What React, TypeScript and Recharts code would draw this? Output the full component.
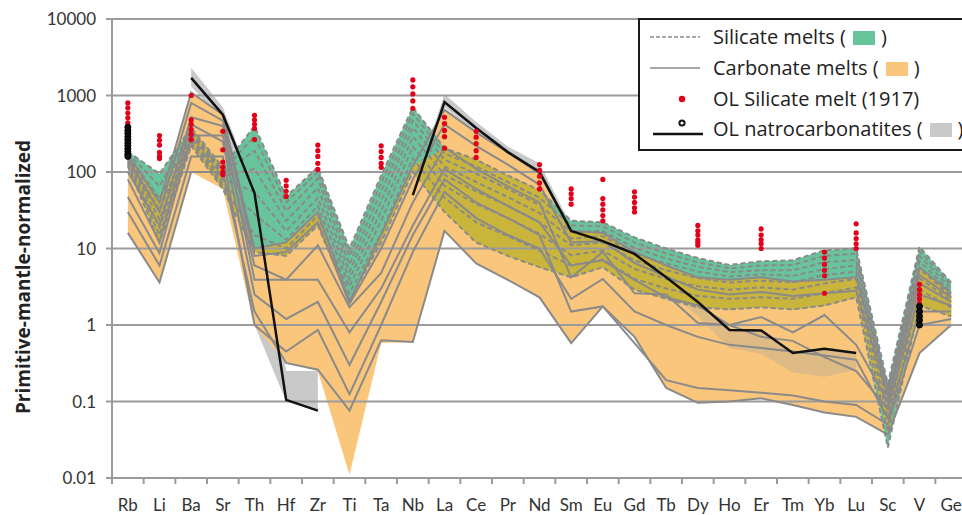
import React from 'react';
import { ComposedChart, Area, Line, XAxis, YAxis, ReferenceLine } from 'recharts';

const categories = ['Rb','Li','Ba','Sr','Th','Hf','Zr','Ti','Ta','Nb','La','Ce','Pr','Nd','Sm','Eu','Gd','Tb','Dy','Ho','Er','Tm','Yb','Lu','Sc','V','Ge'];
const yTicks = [0.01, 0.1, 1, 10, 100, 1000, 10000];

// Envelopes
const silicateHigh = [185, 95, 380, 115, 400, 48, 115, 10, 90, 700, 205, 145, 90, 58, 23, 22, 14, 10, 7.5, 6.1, 6.8, 7, 9.5, 10, 0.17, 10.5, 3.6];
const silicateLow = [120, 12, 220, 60, 9, 8, 20, 2.1, 12, 100, 30, 12, 8, 5.7, 4.2, 5.7, 2.9, 2.2, 1.7, 1.6, 1.7, 1.6, 1.8, 2.3, 0.025, 1.8, 1.3];
const carbonateHigh = [170, 40, 1100, 560, 10, 12, 30, 2, 15, 120, 650, 330, 180, 95, 17, 16, 9, 6, 4.2, 3.9, 4.2, 3.7, 3.9, 4.2, 0.15, 5.7, 2.6];
const carbonateLow = [16, 3.6, 100, 60, 0.95, 0.33, 0.25, 0.011, 0.58, 0.6, 17, 6.4, 3.9, 2.3, 0.58, 1.75, 0.7, 0.15, 0.096, 0.1, 0.11, 0.09, 0.072, 0.063, 0.037, 0.43, 1.0];
const natroHigh = [null, null, 2300, 700, 60, 0.25, 0.25, null, null, 55, 1050, 450, 215, 130, 20, 14, 9.8, 5, 2.4, 1.0, 1.0, 0.52, 0.58, 0.5, null, null, null];
const natroLow = [null, null, 1300, 480, 1, 0.1, 0.075, null, null, 48, 700, 330, 160, 88, 14.5, 11, 7.2, 3.6, 1.7, 0.6, 0.55, 0.28, 0.28, 0.3, null, null, null];
const natroShadeHigh = [null, null, null, null, null, null, null, null, null, null, null, null, null, null, null, null, 8.5, 4.2, 2.0, 0.86, 0.85, 0.43, 0.49, 0.43, null, null, null];
const natroShadeLow = [null, null, null, null, null, null, null, null, null, null, null, null, null, null, null, null, 6.0, 3.0, 1.3, 0.5, 0.42, 0.24, 0.21, 0.26, null, null, null];
const natroMean = [null, null, 1700, 560, 53, 0.105, 0.076, null, null, 50, 820, 376, 182, 100, 17, 12.5, 8.5, 4.2, 2.0, 0.86, 0.85, 0.43, 0.49, 0.43, null, null, null];

// Silicate melts (dashed)
const silicate1 = [185, 95, 380, 115, 400, 48, 115, 10, 90, 700, 205, 145, 90, 58, 23, 22, 14, 10, 7.5, 6.1, 6.8, 7, 9.5, 10, 0.17, 10.5, 3.6];
const silicate2 = [178, 65, 350, 105, 290, 40, 100, 8, 72, 580, 175, 118, 74, 46, 20, 19.5, 12, 8.6, 6.6, 5.5, 6, 6.1, 8, 8.6, 0.14, 9.2, 3.3];
const silicate3 = [168, 45, 330, 96, 190, 31, 82, 6.2, 56, 470, 145, 95, 60, 37, 16.5, 17, 10.2, 7.4, 5.8, 4.9, 5.2, 5.2, 6.6, 7.1, 0.12, 8, 3.0];
const silicate4 = [160, 32, 310, 88, 110, 23, 62, 5, 42, 380, 118, 74, 47, 29, 13.5, 14.5, 8.6, 6.4, 5, 4.3, 4.6, 4.4, 5.4, 6, 0.1, 6.8, 2.7];
const silicate5 = [150, 24, 290, 80, 55, 17, 46, 4, 31, 290, 92, 56, 36, 22, 11, 12, 7, 5.2, 4.1, 3.6, 3.8, 3.6, 4.5, 5, 0.08, 5.4, 2.4];
const silicate6 = [140, 19, 268, 72, 28, 13, 36, 3.2, 23, 215, 66, 38, 25, 15.5, 8.2, 9.4, 5.4, 4, 3.2, 2.9, 3.1, 2.9, 3.5, 4, 0.06, 4.1, 2.1];
const silicate7 = [130, 15, 242, 66, 15, 10, 27, 2.6, 16, 150, 46, 22, 14.5, 9.4, 6, 7.2, 4, 3, 2.4, 2.2, 2.3, 2.2, 2.6, 3.1, 0.04, 2.9, 1.7];
const silicate8 = [120, 12, 220, 60, 9, 8, 20, 2.1, 12, 100, 30, 12, 8, 5.7, 4.2, 5.7, 2.9, 2.2, 1.7, 1.6, 1.7, 1.6, 1.8, 2.3, 0.025, 1.8, 1.3];

// Carbonate melts (solid)
const carbonate1 = [170, 40, 1100, 560, 10, 12, 30, 2, 15, 120, 650, 330, 180, 95, 17, 16, 9, 6, 4.2, 3.9, 4.2, 3.7, 3.9, 4.2, 0.15, 5.7, 2.6];
const carbonate2 = [150, 30, 800, 470, 8, 9, 22, 1.9, 10, 80, 420, 220, 125, 68, 12, 12.5, 6.5, 4.3, 2.9, 2.5, 2.7, 2.4, 2.6, 2.8, 0.12, 4.5, 2.3];
const carbonate3 = [100, 20, 520, 400, 3.9, 3.9, 11, 1.7, 4.8, 40, 210, 110, 65, 40, 4.2, 9, 2.6, 2.5, 1.06, 1.0, 1.27, 0.8, 1.35, 0.55, 0.1, 3.5, 2];
const carbonate4 = [47, 8.7, 300, 300, 6, 3.9, 3.9, 0.8, 3, 20, 110, 60, 36, 22, 6, 7, 3.9, 2.3, 1.8, 1.0, 0.7, 0.62, 0.38, 0.25, 0.08, 2.5, 1.8];
const carbonate5 = [30, 6, 160, 160, 1.0, 0.45, 0.86, 0.125, 1.0, 9, 55, 25, 15, 10, 2.2, 4, 1.5, 1.0, 0.7, 0.55, 0.5, 0.45, 0.4, 0.35, 0.06, 1.5, 1.5];
const carbonate6 = [16, 3.6, 100, 100, 1.5, 0.32, 0.26, 0.076, 0.63, 0.6, 17, 6.4, 3.9, 2.3, 0.58, 1.75, 0.7, 0.15, 0.096, 0.1, 0.11, 0.09, 0.072, 0.063, 0.037, 0.43, 1.0];
const carbonate7 = [80, 12, 420, 250, 2.5, 1.2, 2, 0.3, 2, 15, 80, 40, 25, 15, 1.5, 1.75, 0.58, 0.19, 0.15, 0.14, 0.13, 0.12, 0.1, 0.09, 0.05, 1.0, 1.2];

// OL silicate melt (1917) dots, by rank within each element
const red1 = [800, 300, 1000, 340, 550, 78, 225, null, 220, 1600, 520, 340, null, 125, 60, 80, 55, null, 20, null, 18, null, 9, 21, null, 3.4, null];
const red2 = [690, 260, 480, 195, 480, 66, 190, null, 185, 1300, 430, 285, null, 105, 52, 45, 47, null, 17, null, 15, null, 7.5, 16, null, 2.9, null];
const red3 = [590, 225, 420, 135, 420, 56, 160, null, 155, 1050, 350, 235, null, 88, 45, 38, 40, null, 15, null, 13, null, 6.2, 13.5, null, 2.5, null];
const red4 = [510, 180, 360, 115, 370, 48, 130, null, 130, 850, 290, 190, null, 72, 38, 32, 34, null, 13, null, 11.5, null, 5.2, 11.5, null, 2.2, null];
const red5 = [440, 160, 310, 100, 265, null, 108, null, 115, 680, 205, 155, null, 60, null, 27, 30, null, 12, null, 10, null, 4.4, 10, null, 1.9, null];
const red6 = [400, 150, 265, 92, null, null, null, null, null, null, null, null, null, null, null, 23, null, null, 11, null, null, null, 2.6, null, null, null, null];

// OL natrocarbonatite dots (Rb and V)
const black1 = [385, null, null, null, null, null, null, null, null, null, null, null, null, null, null, null, null, null, null, null, null, null, null, null, null, 1.75, null];
const black2 = [350, null, null, null, null, null, null, null, null, null, null, null, null, null, null, null, null, null, null, null, null, null, null, null, null, 1.5, null];
const black3 = [320, null, null, null, null, null, null, null, null, null, null, null, null, null, null, null, null, null, null, null, null, null, null, null, null, 1.3, null];
const black4 = [290, null, null, null, null, null, null, null, null, null, null, null, null, null, null, null, null, null, null, null, null, null, null, null, null, 1.15, null];
const black5 = [265, null, null, null, null, null, null, null, null, null, null, null, null, null, null, null, null, null, null, null, null, null, null, null, null, 1.0, null];
const black6 = [240, null, null, null, null, null, null, null, null, null, null, null, null, null, null, null, null, null, null, null, null, null, null, null, null, null, null];
const black7 = [220, null, null, null, null, null, null, null, null, null, null, null, null, null, null, null, null, null, null, null, null, null, null, null, null, null, null];
const black8 = [200, null, null, null, null, null, null, null, null, null, null, null, null, null, null, null, null, null, null, null, null, null, null, null, null, null, null];
const black9 = [185, null, null, null, null, null, null, null, null, null, null, null, null, null, null, null, null, null, null, null, null, null, null, null, null, null, null];
const black10 = [170, null, null, null, null, null, null, null, null, null, null, null, null, null, null, null, null, null, null, null, null, null, null, null, null, null, null];
const black11 = [160, null, null, null, null, null, null, null, null, null, null, null, null, null, null, null, null, null, null, null, null, null, null, null, null, null, null];

const silicateLines = [silicate1, silicate2, silicate3, silicate4, silicate5, silicate6, silicate7, silicate8];
const carbonateLines = [carbonate1, carbonate2, carbonate3, carbonate4, carbonate5, carbonate6, carbonate7];
const redDots = [red1, red2, red3, red4, red5, red6];
const blackDots = [black1, black2, black3, black4, black5, black6, black7, black8, black9, black10, black11];

const data = categories.map((cat, i) => {
  const row: any = { cat };
  row.orange = [carbonateLow[i], carbonateHigh[i]];
  row.green = [silicateLow[i], silicateHigh[i]];
  const lo = Math.max(silicateLow[i], carbonateLow[i]);
  const hi = Math.max(lo, Math.min(silicateHigh[i], carbonateHigh[i]));
  row.olive = [lo, hi];
  row.natro = natroLow[i] == null ? null : [natroLow[i], natroHigh[i]];
  row.natroShade = natroShadeLow[i] == null ? null : [natroShadeLow[i], natroShadeHigh[i]];
  row.natroMean = natroMean[i];
  silicateLines.forEach((s, k) => { row['s' + k] = s[i]; });
  carbonateLines.forEach((s, k) => { row['c' + k] = s[i]; });
  redDots.forEach((s, k) => { row['r' + k] = s[i]; });
  blackDots.forEach((s, k) => { row['b' + k] = s[i]; });
  return row;
});

const GRID = '#9b9b9b';
const LINE = '#8a8a8a';
const ORANGE = '#f9c67c';
const GREEN = '#68c49a';
const OLIVE = '#c9b43c';
const GRAYFILL = '#c9c9c9';
const RED = '#e2001a';

const HALF_BAND = 855 / 27 / 2;

const XTick = (props: any) => {
  const { x, y, payload } = props;
  return (
    <g>
      <line x1={x - HALF_BAND} y1={y} x2={x - HALF_BAND} y2={y + 6} stroke={GRID} strokeWidth={2} />
      <text x={x} y={y + 33} textAnchor="middle" fontSize={17} fontFamily="Lato" fill="#333">{payload.value}</text>
    </g>
  );
};

const YLabel = () => (
  <text x={23} y={277} transform="rotate(-90, 23, 277)" textAnchor="middle" dominantBaseline="central"
    fontFamily="Open Sans" fontWeight={700} fontSize={19} fill="#222">Primitive-mantle-normalized</text>
);

const Swatch = ({ color }: { color: string }) => (
  <span style={{ display: 'inline-block', width: 22, height: 14, background: color, margin: '0 6px 0 7px', verticalAlign: 'middle', position: 'relative', top: -1 }} />
);

const rowStyle = (center: number): React.CSSProperties => ({
  position: 'absolute', left: 0, top: center - 15, height: 30, width: 400, lineHeight: '30px', whiteSpace: 'nowrap',
});

const Legend = () => (
  <div style={{ position: 'absolute', left: 638, top: 18, width: 340, height: 133, border: '2px solid #1a1a1a', boxSizing: 'border-box', background: '#fff', fontFamily: 'Open Sans', fontSize: 20, color: '#222' }}>
    <div style={rowStyle(17)}>
      <svg width={64} height={30} style={{ position: 'absolute', left: 10, top: 0 }}>
        <line x1={0} y1={15} x2={50} y2={15} stroke={LINE} strokeWidth={1.6} strokeDasharray="4 2" />
      </svg>
      <span style={{ position: 'absolute', left: 73 }}>Silicate melts (<Swatch color={GREEN} />)</span>
    </div>
    <div style={rowStyle(48)}>
      <svg width={64} height={30} style={{ position: 'absolute', left: 10, top: 0 }}>
        <line x1={0} y1={15} x2={50} y2={15} stroke={LINE} strokeWidth={1.6} />
      </svg>
      <span style={{ position: 'absolute', left: 73 }}>Carbonate melts (<Swatch color={ORANGE} />)</span>
    </div>
    <div style={rowStyle(79)}>
      <svg width={64} height={30} style={{ position: 'absolute', left: 10, top: 0 }}>
        <circle cx={32} cy={15} r={3.2} fill={RED} />
      </svg>
      <span style={{ position: 'absolute', left: 73 }}>OL Silicate melt (1917)</span>
    </div>
    <div style={rowStyle(109)}>
      <svg width={64} height={30} style={{ position: 'absolute', left: 10, top: 0 }}>
        <line x1={3} y1={20} x2={53} y2={20} stroke="#111" strokeWidth={2.5} />
        <circle cx={32} cy={9} r={2.6} fill="#fff" stroke="#111" strokeWidth={2} />
      </svg>
      <span style={{ position: 'absolute', left: 73 }}>OL natrocarbonatites (<Swatch color={GRAYFILL} />)</span>
    </div>
  </div>
);

export default function App() {
  return (
    <div style={{ position: 'fixed', left: 0, top: 0, width: 962, height: 515, overflow: 'hidden', background: '#fff' }}>
      <ComposedChart width={980} height={515} data={data} margin={{ top: 19, right: 13, bottom: 7, left: 12 }}>
        <XAxis dataKey="cat" type="category" interval={0} height={30} tickSize={0} tickMargin={0}
          padding={{ left: HALF_BAND, right: HALF_BAND }}
          axisLine={{ stroke: GRID, strokeWidth: 2 }} tickLine={false} tick={<XTick />} />
        <YAxis scale="log" type="number" domain={[0.01, 10000]} ticks={yTicks} allowDataOverflow width={100}
          tickFormatter={(v: number) => String(v)} tickSize={6} tickMargin={10}
          axisLine={{ stroke: GRID, strokeWidth: 2 }} tickLine={{ stroke: GRID, strokeWidth: 2 }}
          tick={{ fontSize: 17, fontFamily: 'Lato', fill: '#333' }} label={<YLabel />} />
        <Area dataKey="natro" stroke="none" fill={GRAYFILL} fillOpacity={1} isAnimationActive={false} />
        <Area dataKey="orange" stroke="none" fill={ORANGE} fillOpacity={1} isAnimationActive={false} />
        <Area dataKey="natroShade" stroke="none" fill="#9a9a9a" fillOpacity={0.28} isAnimationActive={false} />
        <Area dataKey="green" stroke="none" fill={GREEN} fillOpacity={1} isAnimationActive={false} />
        <Area dataKey="olive" stroke="none" fill={OLIVE} fillOpacity={1} isAnimationActive={false} />
        {yTicks.slice(1).map((v) => (
          <ReferenceLine key={'g' + v} y={v} stroke={GRID} strokeWidth={2} />
        ))}
        {carbonateLines.map((_, k) => (
          <Line key={'c' + k} dataKey={'c' + k} stroke={LINE} strokeWidth={2} dot={false} activeDot={false} isAnimationActive={false} />
        ))}
        {silicateLines.map((_, k) => (
          <Line key={'s' + k} dataKey={'s' + k} stroke={LINE} strokeWidth={2} strokeDasharray="5 3" dot={false} activeDot={false} isAnimationActive={false} />
        ))}
        <Line dataKey="natroMean" stroke="#111" strokeWidth={2.5} dot={false} activeDot={false} isAnimationActive={false} />
        {redDots.map((_, k) => (
          <Line key={'r' + k} dataKey={'r' + k} stroke="none" dot={{ r: 2.6, fill: RED, stroke: 'none' }} activeDot={false} isAnimationActive={false} />
        ))}
        {blackDots.map((_, k) => (
          <Line key={'b' + k} dataKey={'b' + k} stroke="none" dot={{ r: 3, fill: '#111', stroke: '#000', strokeWidth: 1 }} activeDot={false} isAnimationActive={false} />
        ))}
      </ComposedChart>
      <Legend />
    </div>
  );
}
